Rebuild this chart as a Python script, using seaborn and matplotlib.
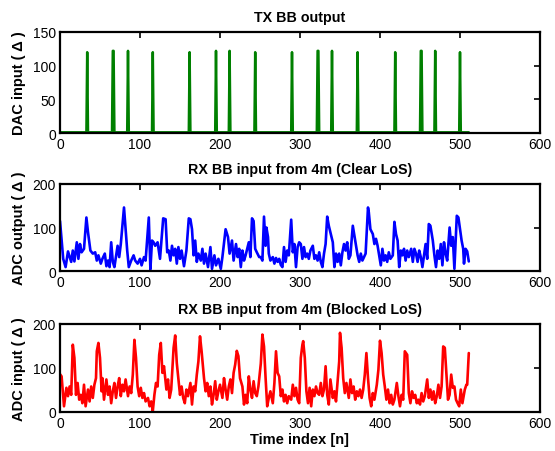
import numpy as np
import pandas as pd
import matplotlib
matplotlib.use("Agg")
import matplotlib.pyplot as plt
import seaborn as sns

# ---------------- data ----------------
n_samples = 512
tx_spike_idx = [34, 66, 67, 85, 116, 162, 195, 212, 244, 290, 322, 323, 340, 372, 419, 451, 452, 469, 500]
tx_spike_val = [120, 122, 122, 122, 120, 120, 122, 122, 120, 120, 122, 122, 122, 120, 120, 122, 122, 122, 120]
tx_base = 1

clear_idx = [0, 2, 4, 7, 10, 14, 16, 18, 21, 23, 25, 27, 30, 33, 35, 38, 41, 44, 46, 48,
             51, 53, 56, 58, 60, 62, 64, 66, 68, 72, 74, 76, 80, 82, 84, 86, 89, 92, 94, 97,
             100, 102, 105, 107, 111, 113, 115, 117, 119, 122, 125, 129, 132, 134, 136, 138, 140, 142, 144, 146,
             148, 150, 152, 155, 158, 161, 163, 165, 167, 169, 171, 173, 176, 178, 180, 182, 185, 188, 190, 193,
             195, 198, 201, 203, 207, 210, 212, 215, 217, 220, 222, 224, 226, 228, 230, 232, 236, 238, 240, 242,
             244, 246, 249,
             251, 253, 255, 257, 258, 260, 261, 263, 266, 268, 270, 272, 274, 276, 278, 280, 282, 284, 286, 289,
             291, 293, 295, 297, 299, 301, 303, 305, 307, 309, 311, 313, 316, 318, 320, 322, 324, 326, 328, 330,
             332, 334, 336, 338, 341, 343, 345, 347, 349, 351, 353, 355, 357, 359, 361, 363, 366, 368, 370, 372,
             374, 376, 378, 380, 382, 385, 386, 388, 391, 393, 395, 397, 399, 401, 403, 405, 407, 409, 411, 413,
             416, 418, 420, 422, 424, 426, 428, 430, 432, 434, 436, 439, 441, 443, 445, 447, 449, 451, 453, 455,
             457, 459, 461, 463, 466, 468, 470, 472, 474, 476, 478, 480, 482, 484, 487, 489, 491, 493, 496, 498,
             500, 502, 504, 505, 507, 509, 511]
clear_val = [115, 70, 28, 9, 45, 21, 47, 22, 66, 28, 62, 43, 51, 123, 89, 47, 40, 43, 24, 36,
             17, 28, 40, 11, 24, 9, 66, 21, 9, 58, 32, 62, 146, 96, 47, 9, 24, 36, 24, 17,
             28, 13, 32, 24, 123, 4, 70, 66, 58, 66, 28, 121, 119, 43, 47, 24, 58, 36, 51, 17,
             55, 28, 47, 11, 47, 121, 119, 96, 36, 70, 21, 40, 24, 51, 17, 40, 9, 55, 5, 36,
             13, 28, 5, 32, 96, 78, 40, 70, 24, 62, 32, 51, 9, 47, 24, 36, 66, 32, 121, 115,
             51, 43, 32,
             32, 24, 125, 58, 100, 78, 40, 24, 32, 17, 30, 21, 28, 14, 9, 55, 21, 47, 36, 118,
             43, 62, 9, 55, 66, 62, 28, 55, 32, 40, 28, 47, 58, 28, 36, 24, 43, 21, 9, 40,
             62, 125, 104, 89, 66, 9, 40, 21, 40, 13, 43, 62, 47, 66, 28, 36, 104, 81, 58, 36,
             21, 40, 24, 32, 40, 146, 135, 96, 85, 62, 74, 58, 36, 13, 51, 24, 36, 21, 43, 28,
             36, 113, 85, 70, 9, 47, 36, 51, 24, 47, 32, 51, 21, 51, 40, 21, 47, 32, 9, 36,
             62, 28, 108, 104, 70, 36, 9, 47, 28, 62, 13, 66, 40, 24, 100, 58, 78, 5, 127, 123,
             96, 70, 51, 17, 51, 45, 22]

blocked_idx = [0, 2, 3, 5, 8, 10, 12, 14, 16, 18, 20, 22, 24, 26, 28, 30, 32, 35, 37, 39,
               41, 43, 45, 46, 48, 50, 52, 53, 55, 58, 60, 62, 64, 66, 68, 70, 72, 74, 76, 78,
               80, 82, 85, 87, 89, 91, 93, 95, 97, 99, 101, 103, 105, 107, 110, 112, 114, 116, 118, 120,
               122, 124, 126, 128, 130, 133, 135, 137, 139, 142, 144, 146, 148, 150, 152, 154, 156, 158, 160, 163,
               165, 167, 169, 171, 173, 175, 177, 180, 182, 184, 186, 188, 190, 192, 194, 196, 198, 200, 203, 205,
               207, 209, 211, 213, 215, 217, 219, 221, 223, 225, 228, 230, 232, 234, 236, 238, 240, 242, 244, 246,
               248, 251, 253,
               255, 257, 259, 261, 263, 266, 268, 270, 272, 274, 276, 278, 280, 282, 284, 286, 289, 291, 293, 295,
               297, 299, 301, 303, 304, 306, 308, 310, 312, 314, 316, 318, 320, 322, 324, 326, 328, 330, 332, 334,
               336, 338, 341, 343, 345, 347, 349, 350, 352, 354, 356, 358, 361, 363, 365, 367, 369, 371, 373, 375,
               377, 379, 381, 383, 385, 387, 389, 391, 393, 396, 398, 400, 402, 404, 406, 408, 410, 412, 414, 416,
               418, 421, 423, 425, 427, 429, 431, 434, 436, 438, 440, 442, 444, 446, 448, 450, 452, 454, 456, 459,
               461, 463, 465, 467, 469, 471, 473, 475, 477, 479, 481, 483, 485, 487, 489, 491, 493, 495, 497, 499,
               501, 503, 506, 508, 509, 511]
blocked_val = [86, 81, 58, 13, 55, 36, 58, 39, 153, 123, 39, 66, 28, 39, 20, 62, 13, 51, 24, 58,
               32, 62, 77, 138, 157, 123, 47, 77, 28, 74, 39, 58, 20, 47, 66, 32, 58, 77, 36, 62,
               47, 74, 36, 58, 43, 85, 164, 123, 58, 36, 55, 32, 43, 24, 32, 13, 24, 2, 39, 66,
               58, 130, 157, 89, 104, 51, 74, 32, 51, 146, 174, 111, 74, 39, 58, 32, 20, 51, 36, 66,
               17, 58, 47, 85, 115, 172, 138, 77, 47, 66, 36, 58, 17, 39, 70, 28, 47, 62, 32, 77,
               51, 28, 58, 74, 43, 89, 108, 139, 127, 77, 58, 17, 39, 20, 81, 51, 32, 70, 43, 36,
               58, 110, 176,
               149, 77, 13, 32, 47, 20, 66, 138, 89, 81, 36, 51, 24, 39, 20, 36, 28, 62, 36, 55,
               28, 20, 123, 153, 161, 123, 47, 20, 55, 13, 51, 36, 58, 43, 39, 66, 36, 51, 104, 39,
               17, 74, 32, 47, 24, 70, 115, 180, 146, 77, 43, 66, 32, 74, 43, 58, 28, 47, 36, 51,
               32, 51, 85, 134, 77, 32, 13, 43, 28, 62, 96, 162, 134, 85, 58, 28, 51, 20, 39, 17,
               28, 66, 36, 13, 39, 28, 138, 130, 43, 20, 47, 32, 39, 20, 28, 17, 43, 24, 36, 74,
               32, 51, 28, 47, 20, 36, 62, 32, 58, 149, 146, 85, 28, 39, 85, 55, 58, 28, 20, 13,
               51, 20, 51, 62, 62, 134]

titles = ["TX BB output", "RX BB input from 4m (Clear LoS)", "RX BB input from 4m (Blocked LoS)"]
ylabels = ["DAC input ( \u0394 )", "ADC output ( \u0394 )", "ADC input ( \u0394 )"]
xlabel = "Time index [n]"
x_ticks = [0, 100, 200, 300, 400, 500, 600]
y_ticks_top = [0, 50, 100, 150]
y_ticks_rx = [0, 100, 200]

# ---------------- build frames ----------------
tx_values = np.full(n_samples, tx_base, dtype=float)
tx_values[tx_spike_idx] = tx_spike_val
df_tx = pd.DataFrame({"n": np.arange(n_samples), "v": tx_values})
df_clear = pd.DataFrame({"n": clear_idx, "v": clear_val})
df_blocked = pd.DataFrame({"n": blocked_idx, "v": blocked_val})

# ---------------- style ----------------
sns.set_theme(style="white")
plt.rcParams["font.family"] = ["Liberation Sans", "DejaVu Sans"]
plt.rcParams["axes.linewidth"] = 1.6
plt.rcParams["axes.edgecolor"] = "black"
plt.rcParams["text.color"] = "black"
plt.rcParams["axes.labelcolor"] = "black"

fig = plt.figure(figsize=(5.55, 4.52), dpi=100)
left, width = 60 / 555, 480 / 555
pos = [
    (left, 1 - 134 / 452, width, 101 / 452),
    (left, 1 - 272 / 452, width, 87 / 452),
    (left, 1 - 413 / 452, width, 88 / 452),
]
frames = [df_tx, df_clear, df_blocked]
colors = ["#008000", "#0000ff", "#ff0000"]
lws = [1.8, 1.9, 1.9]
yticks = [y_ticks_top, y_ticks_rx, y_ticks_rx]
ylims = [(0, 150), (0, 200), (0, 200)]

for i in range(3):
    ax = fig.add_axes(pos[i])
    sns.lineplot(data=frames[i], x="n", y="v", ax=ax, color=colors[i],
                 linewidth=lws[i], estimator=None, sort=False)
    ax.set_xlim(0, 600)
    ax.set_ylim(*ylims[i])
    ax.set_xticks(x_ticks)
    ax.set_yticks(yticks[i])
    ax.tick_params(direction="in", length=4, width=1.2, top=True, right=True,
                   labelsize=10, colors="black", pad=3)
    for s in ax.spines.values():
        s.set_visible(True)
        s.set_linewidth(1.6)
        s.set_color("black")
    ax.set_title(titles[i], fontsize=10.3, fontweight="bold", pad=8, color="black")
    ax.set_ylabel(ylabels[i], fontsize=10.5, fontweight="bold", labelpad=5, color="black")
    if i == 2:
        ax.set_xlabel(xlabel, fontsize=10.5, fontweight="bold", labelpad=1, color="black")
    else:
        ax.set_xlabel("")

fig.savefig("out.png", dpi=100)
